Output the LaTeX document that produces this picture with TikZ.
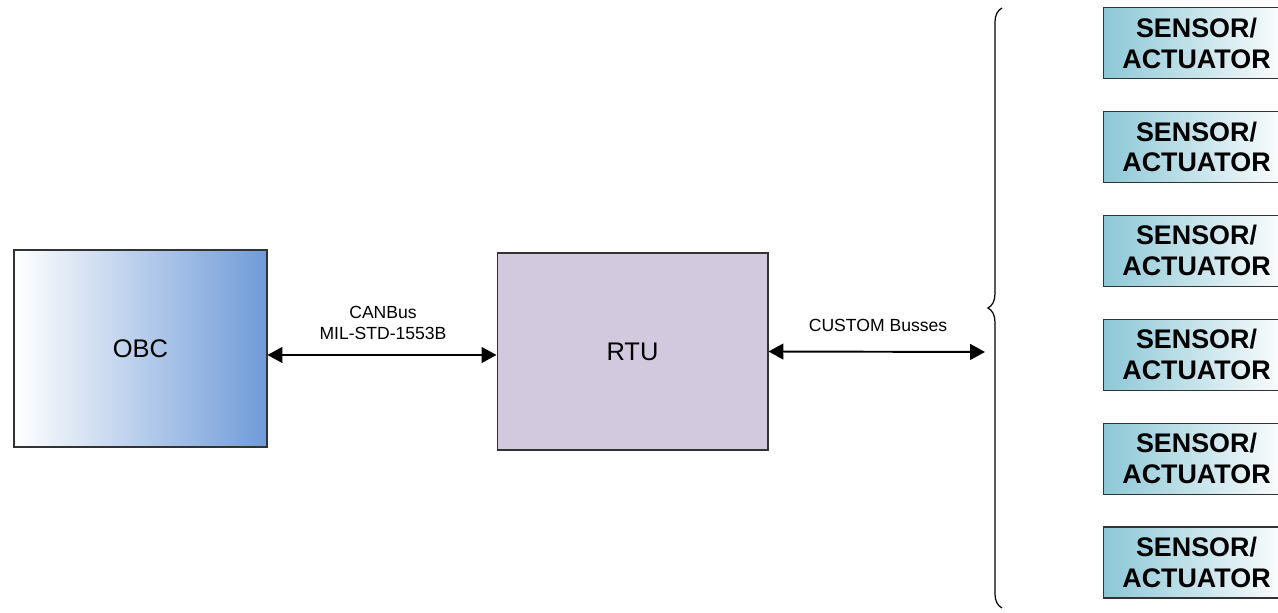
\documentclass[tikz,border=0pt]{standalone}
\usepackage{fontspec}
\setmainfont{Liberation Sans}
\usepackage{xcolor}
\usetikzlibrary{arrows.meta,decorations.pathreplacing}
\definecolor{obcblue}{HTML}{6F9BD8}
\definecolor{rtulilac}{HTML}{D3C9DE}
\definecolor{senscyan}{HTML}{8CC7D6}
\definecolor{edgegray}{HTML}{333333}

\begin{document}
\begin{tikzpicture}[x=0.02cm,y=0.02cm,
            unit/.style={shape=rectangle, draw=edgegray, line width=0.6pt, inner sep=0pt,
                         font=\fontsize{14.5}{17}\selectfont},
            sensbox/.style={unit, minimum width=3.74cm, minimum height=1.42cm,
                         left color=senscyan, right color=white, align=center,
                         font=\fontsize{15.3}{17.6}\selectfont\bfseries},
            bus/.style={line width=1.1pt, {Triangle[length=8.5pt,width=9pt]}-{Triangle[length=8.5pt,width=9pt]}},
            buslabel/.style={font=\fontsize{10}{11.5}\selectfont, align=center}]
				\useasboundingbox (0,0) rectangle (1278,612);
				\begin{scope}
				\clip (0,0) rectangle (1278,612);

				\node[unit, minimum width=5.06cm, minimum height=3.94cm,
				      left color=white, right color=obcblue] (obc) at (140.5,263.5) {OBC};
				\node[unit, minimum width=5.42cm, minimum height=3.94cm,
				      fill=rtulilac] (rtu) at (632.5,260.5) {RTU};

				\draw[bus] (obc.east |- 0,257) -- (rtu.west |- 0,257);
				\node[buslabel] (canlbl) at (383,289) {CANBus\\MIL-STD-1553B};

				\coordinate (busend) at (985,260);
				\draw[bus] (rtu.east) -- (busend);
				\node[buslabel] (customlbl) at (878,287) {CUSTOM Busses};

				\draw[line width=0.7pt, decorate, decoration={brace, amplitude=8}] (1002,4) -- (1002,604);

				\foreach \i in {0,...,5}
					\node[sensbox] (sens\i) at (1196.5,569-103.9*\i) {SENSOR/\\ACTUATOR};
				\end{scope}
 		\end{tikzpicture}
\end{document}
